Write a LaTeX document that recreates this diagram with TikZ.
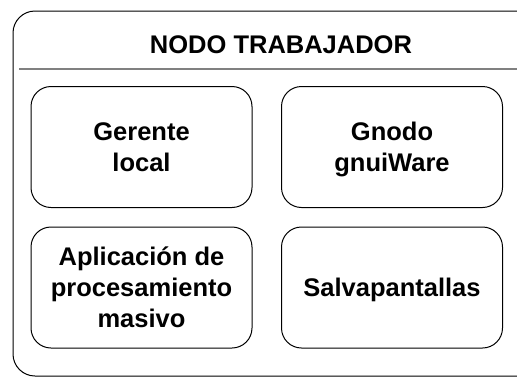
\documentclass[tikz,border=0pt]{standalone}
\usepackage{fontspec}
\setmainfont{Liberation Sans}

\begin{document}
\begin{tikzpicture}[x=1pt, y=-1pt,
    caja/.style={draw, rounded corners=20pt, line width=1pt,
        minimum width=221pt, minimum height=121pt, inner sep=0pt,
        text depth=0pt, align=center,
        font=\bfseries\fontsize{25.5}{31}\selectfont}]

    \useasboundingbox (0,0) rectangle (517,378);
    \clip (0,0) rectangle (517,378);

    \node[draw, rounded corners=22pt, line width=1pt,
        minimum width=536pt, minimum height=365pt] (nodo) at (281,193.5) {};
    \node[font=\bfseries\fontsize{25.5}{31}\selectfont] (titulo) at (281,45) {NODO TRABAJADOR};

    \coordinate (div-a) at (19,69);
    \coordinate (div-b) at (nodo.east |- div-a);
    \draw[gray, line width=1.5pt] (div-a) -- (div-b);

    \node[caja] (gerente) at (141.5,147) {Gerente\\local};
    \node[caja] (gnodo) at (392,147) {Gnodo\\gnuiWare};
    \node[caja] (aplicacion) at (141.5,287.5) {Aplicación de\\procesamiento\\masivo};
    \node[caja] (salva) at (392,287.5) {Salvapantallas};

\end{tikzpicture}
\end{document}
